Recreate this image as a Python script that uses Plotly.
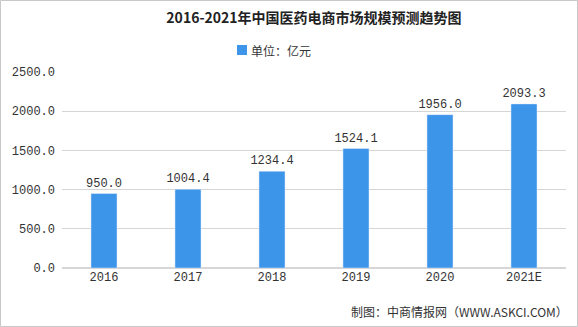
import plotly.graph_objects as go

categories = ["2016", "2017", "2018", "2019", "2020", "2021E"]
values = [950.0, 1004.4, 1234.4, 1524.1, 1956.0, 2093.3]
tick_vals = [0, 500, 1000, 1500, 2000, 2500]
tick_text = ["0.0", "500.0", "1000.0", "1500.0", "2000.0", "2500.0"]
series_name = "单位：亿元"

W, H = 578, 327
ml, mr, mt, mb = 62, 12, 72, 59
pw, ph = W - ml - mr, H - mt - mb
mono = "Liberation Mono, monospace"
bar_color = "#3d95ea"

def px_x(x):
    return (x - ml) / pw

def px_y(y):
    return (H - mb - y) / ph

fig = go.Figure()
fig.add_trace(go.Bar(
    x=categories, y=values, name=series_name,
    marker_color=bar_color, width=0.31,
    text=[f"{v:.1f}" for v in values], textposition="outside",
    constraintext="none",
    textfont=dict(size=12, color="#333333", family=mono),
    cliponaxis=False, showlegend=False,
))

fig.update_layout(
    width=W, height=H,
    margin=dict(l=ml, r=mr, t=mt, b=mb),
    paper_bgcolor="white", plot_bgcolor="white",
    title=dict(text="<b>2016-2021年中国医药电商市场规模预测趋势图</b>",
               x=0.5, xref="paper", y=1 - 18 / H, yanchor="middle",
               font=dict(size=14, color="#222222", family="Noto Sans CJK SC")),
    showlegend=False,
    xaxis=dict(showgrid=False, showline=False, ticks="",
               tickfont=dict(size=12, color="#333333", family=mono)),
    yaxis=dict(range=[0, 2500], tickvals=tick_vals, ticktext=tick_text,
               showgrid=True, gridcolor="#d6d6d6", gridwidth=1, zeroline=True,
               zerolinecolor="#d6d6d6", ticks="", ticklabelstandoff=6,
               tickfont=dict(size=12, color="#333333", family=mono)),
    bargap=0.69,
)

# legend: square swatch + label
fig.add_shape(type="rect", xref="paper", yref="paper",
              x0=px_x(237), x1=px_x(247), y0=px_y(55), y1=px_y(45),
              fillcolor=bar_color, line=dict(width=0))
fig.add_annotation(text=series_name, xref="paper", yref="paper",
                   x=px_x(249), xanchor="left", y=px_y(50), yanchor="middle",
                   showarrow=False,
                   font=dict(size=12, color="#333333", family="Noto Sans CJK SC"))

fig.add_annotation(text="制图：中商情报网（WWW.ASKCI.COM）", xref="paper", yref="paper",
                   x=px_x(570), xanchor="right", y=px_y(311), yanchor="middle",
                   showarrow=False,
                   font=dict(size=12, color="#333333", family="Noto Sans CJK SC"))

fig.add_shape(type="rect", xref="paper", yref="paper",
              x0=-(ml - 0.5) / pw, x1=1 + (mr - 0.5) / pw,
              y0=-(mb - 0.5) / ph, y1=1 + (mt - 0.5) / ph,
              line=dict(color="#c8c8c8", width=1), layer="below")

fig.write_html("out.html")
